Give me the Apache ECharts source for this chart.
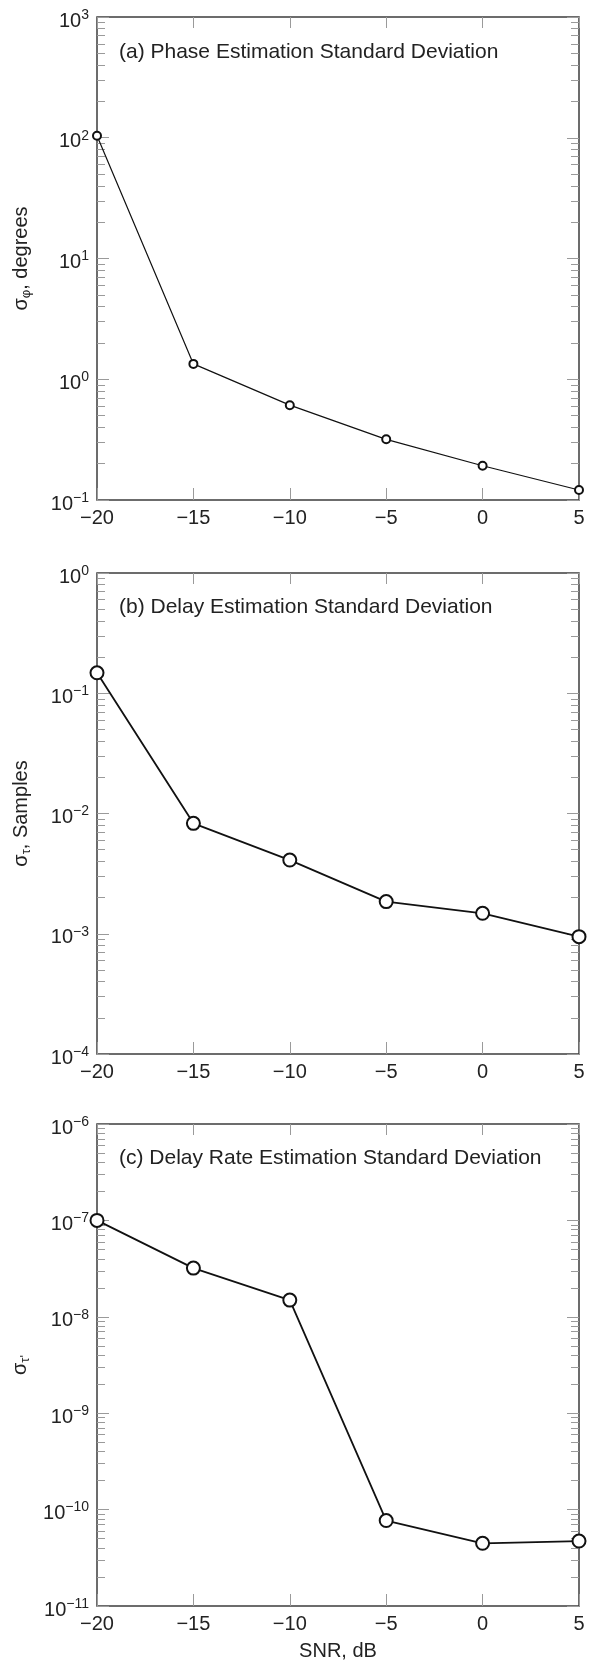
<!DOCTYPE html>
<html>
<head>
<meta charset="utf-8">
<script src="https://cdn.jsdelivr.net/npm/echarts@6/dist/echarts.min.js"></script>
<style>
html,body{margin:0;padding:0;background:#fff;}
#chart{width:589px;height:1666px;}
</style>
</head>
<body>
<div id="chart"></div>
<script>
// ---- data ----
const snr = [-20, -15, -10, -5, 0, 5];
const phaseStd = [104, 1.34, 0.61, 0.318, 0.192, 0.121];
const delayStd = [0.148, 0.00828, 0.0041, 0.00185, 0.00148, 0.000946];
const rateStd = [1.0e-7, 3.2e-8, 1.49e-8, 7.7e-11, 4.47e-11, 4.72e-11];
const xTicks = [-20, -15, -10, -5, 0, 5];
const expRangeA = [-1, 3];
const expRangeB = [-4, 0];
const expRangeC = [-11, -6];
const titles = ['(a) Phase Estimation Standard Deviation', '(b) Delay Estimation Standard Deviation', '(c) Delay Rate Estimation Standard Deviation'];
const yNames = ['σ{sub|φ}, degrees', 'σ{sub|τ}, Samples', "σ{sub|τ'}"];
const xName = 'SNR, dB';

// ---- layout ----
const FONT = 'Liberation Sans, Arial, Helvetica, sans-serif';
const TXT = '#222';
const BOX = '#3c3c3c';
const TICK = '#9a9a9a';
const panels = [
  {top: 17, height: 483, exp: expRangeA, data: phaseStd, sym: 8, lw: 1.2, titleTop: 40},
  {top: 573, height: 481, exp: expRangeB, data: delayStd, sym: 13, lw: 1.8, titleTop: 595},
  {top: 1124, height: 482, exp: expRangeC, data: rateStd, sym: 13, lw: 1.8, titleTop: 1146}
];
const gridLeft = 97, gridWidth = 482;

function minorVals(exp) {
  const out = [];
  for (let e = exp[0]; e < exp[1]; e++) for (let k = 2; k <= 9; k++) out.push(Math.log10(k) + e);
  return out;
}
function majorVals(exp) {
  const out = [];
  for (let e = exp[0]; e <= exp[1]; e++) out.push(e);
  return out;
}
function fmtMinus(v) { return v < 0 ? '\u2212' + (-v) : String(v); }

const grid = [], xAxis = [], yAxis = [], series = [], title = [];
panels.forEach((p, i) => {
  grid.push({left: gridLeft, width: gridWidth, top: p.top, height: p.height, show: true,
    borderColor: BOX, borderWidth: 1.5, backgroundColor: 'transparent', containLabel: false});
  const last = i === panels.length - 1;
  // bottom x axis
  xAxis.push({type: 'value', gridIndex: i, position: 'bottom', min: xTicks[0], max: xTicks[xTicks.length - 1], interval: 5,
    axisLine: {show: false, onZero: false},
    axisTick: {show: true, inside: true, length: 12, lineStyle: {color: TICK, width: 1}},
    splitLine: {show: false},
    axisLabel: {show: true, margin: 8, fontSize: 20, color: TXT, fontFamily: FONT, formatter: fmtMinus, showMinLabel: true, showMaxLabel: true},
    name: last ? xName : '', nameLocation: 'middle', nameGap: 35,
    nameTextStyle: {fontSize: 20, color: TXT, fontFamily: FONT}
  });
  // top x axis
  xAxis.push({type: 'value', gridIndex: i, position: 'top', min: xTicks[0], max: xTicks[xTicks.length - 1], interval: 5,
    axisLine: {show: false, onZero: false},
    axisTick: {show: true, inside: true, length: 11, lineStyle: {color: TICK, width: 1}},
    splitLine: {show: false}, axisLabel: {show: false}
  });
  const yi = yAxis.length;
  // left log axis (labels, major ticks)
  yAxis.push({type: 'log', logBase: 10, gridIndex: i, position: 'left', min: Math.pow(10, p.exp[0]), max: Math.pow(10, p.exp[1]),
    axisLine: {show: false, onZero: false},
    axisTick: {show: true, inside: true, length: 12, lineStyle: {color: TICK, width: 1}},
    minorTick: {show: false}, splitLine: {show: false},
    axisLabel: {show: true, margin: 8, fontSize: 20, color: TXT, fontFamily: FONT, lineHeight: 26, padding: [8, 0, 0, 0],
      showMinLabel: true, showMaxLabel: true,
      formatter: function (v) { const e = Math.round(Math.log10(v)); return '10{sup|' + fmtMinus(e) + '}'; },
      rich: {sup: {fontSize: 14, lineHeight: 14, verticalAlign: 'top', color: TXT, fontFamily: FONT}}},
    name: yNames[i], nameLocation: 'middle', nameGap: 64, nameRotate: 90,
    nameTextStyle: {fontSize: 20, color: TXT, fontFamily: FONT, lineHeight: 24,
      rich: {sub: {fontSize: 13, lineHeight: 13, verticalAlign: 'bottom', color: TXT, fontFamily: FONT}}}
  });
  // left minor ticks
  yAxis.push({type: 'value', gridIndex: i, position: 'left', min: p.exp[0], max: p.exp[1],
    axisLine: {show: false, onZero: false}, splitLine: {show: false}, axisLabel: {show: false},
    axisTick: {show: true, inside: true, length: 8, customValues: minorVals(p.exp), lineStyle: {color: TICK, width: 1}}
  });
  // right major ticks
  yAxis.push({type: 'value', gridIndex: i, position: 'right', min: p.exp[0], max: p.exp[1],
    axisLine: {show: false, onZero: false}, splitLine: {show: false}, axisLabel: {show: false},
    axisTick: {show: true, inside: true, length: 12, customValues: majorVals(p.exp), lineStyle: {color: TICK, width: 1}}
  });
  // right minor ticks
  yAxis.push({type: 'value', gridIndex: i, position: 'right', min: p.exp[0], max: p.exp[1],
    axisLine: {show: false, onZero: false}, splitLine: {show: false}, axisLabel: {show: false},
    axisTick: {show: true, inside: true, length: 8, customValues: minorVals(p.exp), lineStyle: {color: TICK, width: 1}}
  });
  series.push({type: 'line', xAxisIndex: i * 2, yAxisIndex: yi, clip: false,
    data: snr.map((x, k) => [x, p.data[k]]),
    symbol: 'emptyCircle', symbolSize: p.sym, showAllSymbol: true,
    lineStyle: {color: '#111', width: p.lw},
    itemStyle: {color: '#111', borderColor: '#111', borderWidth: p.lw},
    emphasis: {disabled: true}, animation: false, z: 5
  });
  title.push({text: titles[i], left: 119, top: p.titleTop, padding: 0,
    textStyle: {fontSize: 21, fontWeight: 'normal', color: TXT, fontFamily: FONT, lineHeight: 24}});
});

const chart = echarts.init(document.getElementById('chart'), null, {renderer: 'canvas'});
chart.setOption({backgroundColor: '#fff', animation: false, title, grid, xAxis, yAxis, series});
</script>
</body>
</html>
